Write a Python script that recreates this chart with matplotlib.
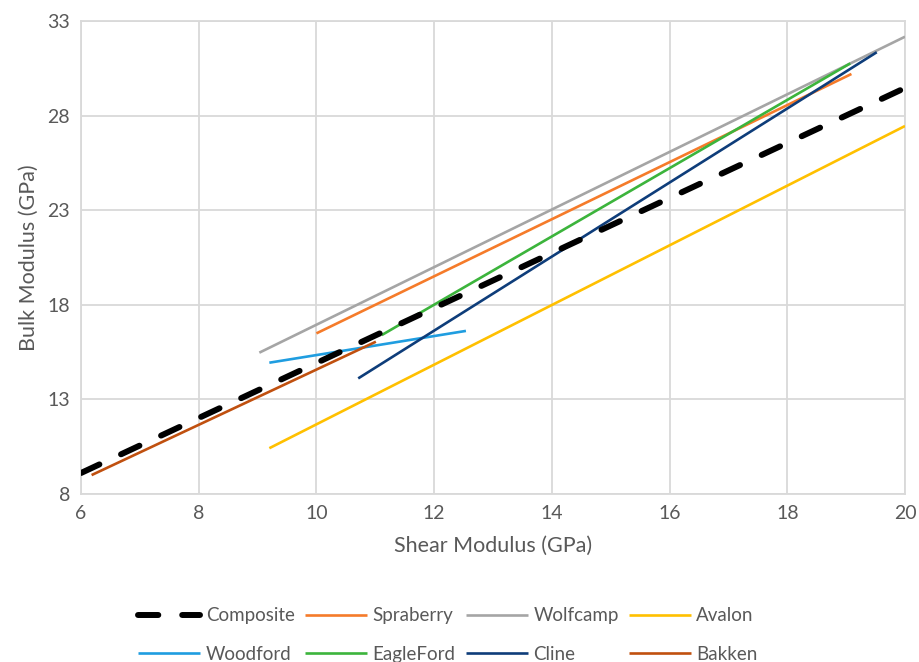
import matplotlib
matplotlib.use("Agg")
import matplotlib.pyplot as plt

plt.rcParams['font.family'] = ['Lato', 'DejaVu Sans']

series_names = ["Composite", "Spraberry", "Wolfcamp", "Avalon",
                "Woodford", "EagleFord", "Cline", "Bakken"]
series_x = {
    "Composite": [6.0, 20.0],
    "Spraberry": [10.0, 19.09],
    "Wolfcamp": [9.03, 20.0],
    "Avalon": [9.2, 20.0],
    "Woodford": [9.2, 12.54],
    "EagleFord": [11.11, 19.07],
    "Cline": [10.71, 19.52],
    "Bakken": [6.18, 11.01],
}
series_y = {
    "Composite": [9.11, 29.46],
    "Spraberry": [16.49, 30.2],
    "Wolfcamp": [15.47, 32.17],
    "Avalon": [10.42, 27.45],
    "Woodford": [14.94, 16.62],
    "EagleFord": [16.4, 30.76],
    "Cline": [14.11, 31.35],
    "Bakken": [9.0, 16.05],
}
colors = {
    "Composite": "#000000",
    "Spraberry": "#F57B2A",
    "Wolfcamp": "#A5A5A5",
    "Avalon": "#FFC000",
    "Woodford": "#1F9DE0",
    "EagleFord": "#3CB43C",
    "Cline": "#0E3D7A",
    "Bakken": "#C0500F",
}
x_ticks = [6, 8, 10, 12, 14, 16, 18, 20]
y_ticks = [8, 13, 18, 23, 28, 33]

fig = plt.figure(figsize=(9.19, 6.62), dpi=100)
ax = fig.add_axes([81/919, 1-494/662, (905-81)/919, (494-21)/662])

handles = {}
draw_order = ["Spraberry", "Wolfcamp", "Avalon", "Woodford", "EagleFord", "Cline", "Bakken", "Composite"]
for name in draw_order:
    if name == "Composite":
        ln, = ax.plot(series_x[name], series_y[name], color=colors[name], lw=4.3,
                      dashes=(3.4, 4.0), dash_capstyle='round', zorder=5)
    else:
        ln, = ax.plot(series_x[name], series_y[name], color=colors[name], lw=1.9,
                      solid_capstyle='butt', zorder=3)
    handles[name] = ln

ax.set_xlim(6, 20)
ax.set_ylim(8, 33)
ax.set_xticks(x_ticks)
ax.set_yticks(y_ticks)
ax.grid(True, color="#D9D9D9", lw=1.3)
ax.set_axisbelow(True)
for s in ax.spines.values():
    s.set_color("#D9D9D9")
    s.set_linewidth(1.3)
ax.tick_params(length=0, colors="#595959", labelsize=14, pad=8)
ax.set_xlabel("Shear Modulus (GPa)", fontsize=15.5, color="#595959", labelpad=10)
ax.set_ylabel("Bulk Modulus (GPa)", fontsize=15.5, color="#595959", labelpad=6)

# legend filled row-wise: reorder for matplotlib's column-wise filling
ncol = 4
nrow = 2
order = [series_names[r * ncol + c] for c in range(ncol) for r in range(nrow)]
leg = fig.legend([handles[n] for n in order], order, ncol=ncol, loc="center",
                 bbox_to_anchor=(448/919, 1-635/662), frameon=False,
                 fontsize=13.5, handlelength=3.3, handletextpad=0.3,
                 columnspacing=0.55, labelspacing=1.15, borderaxespad=0)
for t in leg.get_texts():
    t.set_color("#595959")

fig.savefig("out.png", dpi=100)
